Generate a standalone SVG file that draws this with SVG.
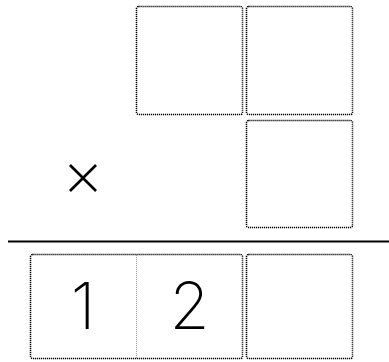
<svg xmlns="http://www.w3.org/2000/svg" width="389" height="362" viewBox="0 0 389 362">
<style>
.box{fill:none;stroke:#000;stroke-width:1.5;stroke-dasharray:1.2 0.8}
.div{fill:none;stroke:#999;stroke-width:1;stroke-dasharray:1 1}
.num{font-family:Inter,"DejaVu Sans",sans-serif;font-weight:200;font-size:65px;text-anchor:middle;fill:#000}
</style>
<rect width="389" height="362" fill="#fff"/>
<g id="box-top-left"><rect class="box" x="136.5" y="6.5" width="106" height="108" rx="2"/></g>
<g id="box-top-right"><rect class="box" x="246.5" y="6.5" width="106" height="108" rx="2"/></g>
<g id="box-mid-right"><rect class="box" x="246.5" y="120.5" width="106" height="107" rx="2"/></g>
<g id="times"><text class="num" x="83" y="196">×</text></g>
<g id="rule"><line x1="8" y1="241.5" x2="389" y2="241.5" stroke="#000" stroke-width="2"/></g>
<g id="box-result-left">
<rect class="box" x="30.5" y="254.5" width="212" height="104" rx="2"/>
<line class="div" x1="136.5" y1="255" x2="136.5" y2="358"/>
<text class="num" x="83" y="329">1</text>
<text class="num" x="189.5" y="329">2</text>
</g>
<g id="box-result-right"><rect class="box" x="246.5" y="254.5" width="106" height="104" rx="2"/></g>
</svg>
